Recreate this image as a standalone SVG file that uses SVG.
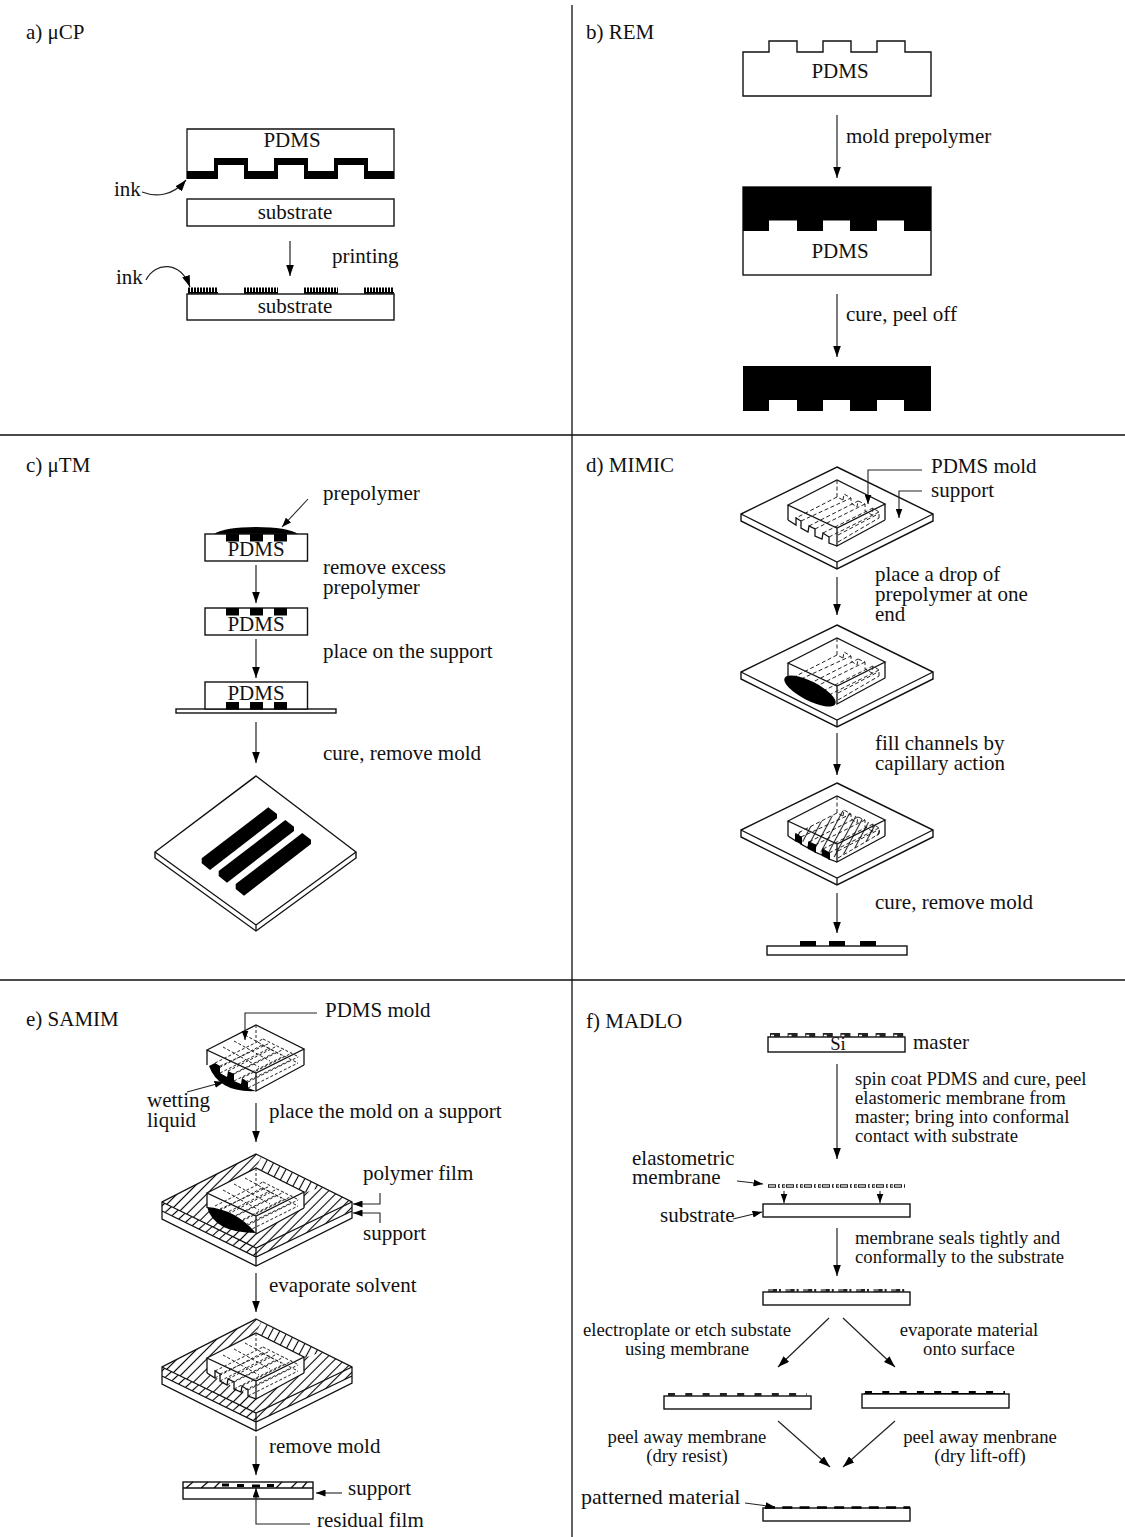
<svg xmlns="http://www.w3.org/2000/svg" xmlns:xlink="http://www.w3.org/1999/xlink" width="1125" height="1537" viewBox="0 0 1125 1537">
<style>
text{font-family:"Liberation Serif","Times New Roman",serif;fill:#111}
.t{font-size:21px}
.s{font-size:18.7px}
.m{text-anchor:middle}
.o{fill:#fff;stroke:#111;stroke-width:1.4}
.l{fill:none;stroke:#111;stroke-width:1.3}
.d{fill:none;stroke:#222;stroke-width:1;stroke-dasharray:4 2.5}
.e{fill:none;stroke:#222;stroke-width:1;stroke-dasharray:3 2}
.k{fill:#000;stroke:none}
.a{fill:none;stroke:#222;stroke-width:1.2;marker-end:url(#ah)}
.b{fill:none;stroke:#222;stroke-width:1.1;marker-end:url(#as)}
</style>
<defs>
<marker id="ah" markerUnits="userSpaceOnUse" markerWidth="12" markerHeight="8" refX="11.5" refY="4" orient="auto"><path d="M0,0 L11.5,4 L0,8 Z" fill="#000"/></marker>
<marker id="as" markerUnits="userSpaceOnUse" markerWidth="10" markerHeight="7" refX="9.5" refY="3.5" orient="auto"><path d="M0,0 L9.5,3.5 L0,7 Z" fill="#000"/></marker>
<pattern id="h" width="7" height="7" patternUnits="userSpaceOnUse" patternTransform="rotate(-45)"><line x1="0" y1="3.5" x2="7" y2="3.5" stroke="#000" stroke-width="1.1"/></pattern>
<pattern id="h2" width="7" height="7" patternUnits="userSpaceOnUse" patternTransform="rotate(-62)"><line x1="0" y1="3.5" x2="7" y2="3.5" stroke="#000" stroke-width="1.1"/></pattern>
<pattern id="h3" width="7" height="7" patternUnits="userSpaceOnUse" patternTransform="rotate(-42)"><line x1="0" y1="3.5" x2="7" y2="3.5" stroke="#000" stroke-width="1.1"/></pattern>
<g id="plate">
<path class="o" d="M837,467 L933,514 L933,521 L837,569 L741,521 L741,514 Z"/>
<path class="l" d="M741,514 L837,562 L933,514 M837,562 V569"/>
</g>
<g id="box">
<path d="M837,480 L885,504 V520 L837,546 L788,520 V505 Z" fill="#fff"/>
<path class="l" d="M788,505 L837,480 L885,504 L837,528 Z M788,505 V520 M885,504 V520 M837,528 V546 L885,520"/>
</g>
<path id="notch" class="l" d="M788,520 L796,525 V518 L801,521 V528 L808,532 L809,526 L815,529 V536 L822,539 L823,533 L829,537 V543 L837,546"/>
<path id="chanD" class="d" d="M837,480 V497 L843,500 M837,497 L796,518 M843,500 L844,494 L851,498 L851,503 L857,507 L858,501 L865,504 V511 L872,515 L873,508 L879,512 V518 M801,521 L851,498 M809,526 L858,501 M815,529 L865,504 M823,533 L873,508 M829,537 L879,512 M838,535 L878,514 M838,542 L879,518"/>
<path id="chanE" class="e" d="M837,480 V497 M796,518 L844,494 M796,525 L843,500 M801,521 L851,498 M801,528 L851,503 M808,532 L857,507 M809,526 L858,501 M815,529 L865,504 M815,536 L865,511 M822,539 L872,515 M823,533 L873,508 M829,537 L879,512 M829,543 L879,518 M844,494 L880,512 M843,500 L879,518 M826,490 L862,510 M815,496 L851,516 M804,502 L840,522"/>
<g id="plateE">
<path d="M256,1154 L352,1202 V1218 L256,1266 L162,1219 V1202 Z" fill="#fff"/>
<path d="M256,1154 L352,1202 L256,1248 L162,1202 Z" fill="url(#h)"/>
<path d="M261,1157 L322,1187 L304,1193 L256,1168 Z" fill="#fff"/>
<path d="M261,1157 L322,1187 L304,1193 L256,1168 Z" fill="url(#h2)"/>
<path d="M162,1202 L256,1248 V1257 L162,1211 Z" fill="url(#h3)"/>
<path d="M256,1248 L352,1202 V1211 L256,1257 Z" fill="url(#h)"/>
<path class="l" d="M256,1154 L352,1202 V1218 L256,1266 L162,1219 V1202 Z M162,1202 L256,1248 L352,1202 M162,1211 L256,1257 L352,1211 M256,1248 V1266"/>
</g>
<g id="bar"><path class="k" d="M201.7,858.3 L268.3,807.3 L277,814 V818.3 L210,870 L201.7,863.3 Z"/></g>
<g id="pb"><rect x="226" width="13" height="7.5"/><rect x="250" width="13" height="7.5"/><rect x="274" width="13" height="7.5"/></g>
</defs>

<g id="frame"><path class="l" d="M572,5 V1537 M0,435 H1125 M0,980 H1125"/></g>

<g id="panel-a">
<text class="t" x="26" y="39">a) μCP</text>
<g id="a-stamp">
<path class="l" d="M187,179 V129 H394 V179"/>
<path class="k" d="M187,171 H214 V158 H248 V171 H274 V158 H308 V171 H334 V158 H368 V171 H394 V179 H364 V165 H338 V179 H304 V165 H278 V179 H244 V165 H218 V179 H187 Z"/>
<text class="t m" x="292" y="147">PDMS</text>
</g>
<g id="a-substrate1"><rect class="o" x="187" y="199" width="207" height="27"/><text class="t m" x="295" y="219">substrate</text></g>
<g id="a-substrate2">
<rect class="o" x="187" y="294" width="207" height="26"/>
<path d="M188,290.5 H218 M244,290.5 H278 M304,290.5 H338 M364,290.5 H394" stroke="#000" stroke-width="6" stroke-dasharray="2 1" fill="none"/>
<path d="M188,292.8 H218 M244,292.8 H278 M304,292.8 H338 M364,292.8 H394" stroke="#000" stroke-width="1.6" fill="none"/>
<text class="t m" x="295" y="313">substrate</text>
</g>
<text class="t" x="332" y="263">printing</text>
<text class="t" x="114" y="196">ink</text>
<text class="t" x="116" y="284">ink</text>
</g>

<g id="panel-b">
<text class="t" x="586" y="39">b) REM</text>
<g id="b-pdms1"><path class="o" d="M743,52 H769 V41 H797 V52 H823 V41 H851 V52 H877 V41 H905 V52 H931 V96 H743 Z"/><text class="t m" x="840" y="78">PDMS</text></g>
<g id="b-pdms2"><rect class="o" x="743" y="187" width="188" height="88"/><path class="k" d="M743,187 H931 V231 H904 V220.5 H877 V231 H850 V220.5 H823 V231 H797 V220.5 H769 V231 H743 Z"/><text class="t m" x="840" y="258">PDMS</text></g>
<g id="b-replica"><path class="k" d="M743,366 H931 V411 H904 V400 H877 V411 H850 V400 H823 V411 H797 V400 H769 V411 H743 Z"/></g>
<text class="t" x="846" y="143">mold prepolymer</text>
<text class="t" x="846" y="321">cure, peel off</text>
</g>

<g id="panel-c">
<text class="t" x="26" y="472">c) μTM</text>
<g id="c-step1">
<path class="k" d="M214,534 Q225,527 256,527 Q287,527 298,534 Z"/>
<rect class="o" x="205" y="534" width="102.5" height="27"/>
<use href="#pb" y="534" class="k"/>
<text class="t m" x="256" y="556">PDMS</text>
</g>
<g id="c-step2"><rect class="o" x="205" y="608" width="102.5" height="27"/><use href="#pb" y="608" class="k"/><text class="t m" x="256" y="631">PDMS</text></g>
<g id="c-step3"><rect class="o" x="176" y="709" width="160" height="4"/><rect class="o" x="205" y="682" width="102.5" height="27"/><use href="#pb" y="702" class="k"/><text class="t m" x="256" y="700">PDMS</text></g>
<g id="c-plate">
<path class="o" d="M256,776 L356,852 V858 L256,931 L155,858 V852 Z"/>
<path class="l" d="M155,852 L256,925 L356,852 M256,925 V931"/>
<use href="#bar"/><use href="#bar" x="17" y="12.7"/><use href="#bar" x="34" y="25.7"/>
</g>
<text class="t" x="323" y="500">prepolymer</text>
<text class="t" x="323" y="574">remove excess</text>
<text class="t" x="323" y="594">prepolymer</text>
<text class="t" x="323" y="658">place on the support</text>
<text class="t" x="323" y="760">cure, remove mold</text>
</g>

<g id="panel-d">
<text class="t" x="586" y="472">d) MIMIC</text>
<g id="d-step1"><use href="#plate"/><use href="#box"/><use href="#notch"/><use href="#chanD"/></g>
<g id="d-step2" transform="translate(0,158)"><use href="#plate"/><use href="#box"/><use href="#chanD"/><ellipse class="k" cx="810" cy="533" rx="28.5" ry="9.5" transform="rotate(27 810 533)"/></g>
<g id="d-step3" transform="translate(0,316)"><use href="#plate"/><use href="#box"/><use href="#notch"/><use href="#chanD"/>
<path class="k" d="M795,518 L802,521 V529 L795,525 Z M808,526 L816,529 V537 L808,533 Z M822,533 L830,537 V544 L822,540 Z"/>
<path d="M796,518 L844,494 L880,512 L880,518 L837,542 L808,532 Z" fill="url(#h2)" opacity=".85"/></g>
<g id="d-film"><rect class="o" x="767" y="946" width="140" height="9"/><path class="k" d="M800,941 H816 V946 H800 Z M829,941 H845 V946 H829 Z M860,941 H876 V946 H860 Z"/></g>
<text class="t" x="931" y="473">PDMS mold</text>
<text class="t" x="931" y="497">support</text>
<text class="t" x="875" y="581">place a drop of</text>
<text class="t" x="875" y="601">prepolymer at one</text>
<text class="t" x="875" y="621">end</text>
<text class="t" x="875" y="750">fill channels by</text>
<text class="t" x="875" y="770">capillary action</text>
<text class="t" x="875" y="909">cure, remove mold</text>
</g>

<g id="panel-e">
<text class="t" x="26" y="1026">e) SAMIM</text>
<g id="e-step1" transform="translate(-581,545)"><use href="#box"/><use href="#chanE"/>
<path class="k" d="M790,521 L796,518 L801,521 V528 L808,532 L809,526 L815,529 V536 L822,539 L823,533 L829,537 V543 L837,546 Q800,548 790,521 Z"/></g>
<g id="e-step2"><use href="#plateE"/><g transform="translate(-581,688)"><use href="#box"/><use href="#chanE"/></g><path class="k" d="M207,1207 Q235,1209 256,1233 Q214,1233 207,1207 Z"/></g>
<g id="e-step3"><use href="#plateE" y="165"/><g transform="translate(-581,853)"><use href="#box"/><use href="#notch"/><use href="#chanE"/></g></g>
<g id="e-film">
<rect class="o" x="183" y="1482" width="130" height="17"/>
<path class="l" d="M183,1488 H313 M186,1488 L193,1482 M201,1488 L208,1482 M214,1488 L220,1482 M276,1488 L282,1482 M291,1488 L297,1482 M302,1488 L307,1482"/>
<path class="k" d="M222,1483.5 H229 V1486.5 H222 Z M237,1484 H244 V1487 H237 Z M252,1484.5 H260 V1487.5 H252 Z M267,1484 H274 V1487 H267 Z"/>
</g>
<text class="t" x="325" y="1017">PDMS mold</text>
<text class="t" x="147" y="1107">wetting</text>
<text class="t" x="147" y="1127">liquid</text>
<text class="t" x="269" y="1118">place the mold on a support</text>
<text class="t" x="363" y="1180">polymer film</text>
<text class="t" x="363" y="1240">support</text>
<text class="t" x="269" y="1292">evaporate solvent</text>
<text class="t" x="269" y="1453">remove mold</text>
<text class="t" x="348" y="1495">support</text>
<text class="t" x="317" y="1527">residual film</text>
</g>

<g id="panel-f">
<text class="t" x="586" y="1028">f) MADLO</text>
<g id="f-master"><rect class="o" x="768" y="1037" width="137" height="15"/>
<line x1="770" y1="1035" x2="905" y2="1035" stroke="#222" stroke-width="4" stroke-dasharray="10 7.6"/>
<line x1="771" y1="1035.5" x2="905" y2="1035.5" stroke="#fff" stroke-width="1.5" stroke-dasharray="3 14.6"/>
<text class="s m" x="838" y="1050">Si</text></g>
<g id="f-membrane">
<line x1="768" y1="1186" x2="905" y2="1186" stroke="#222" stroke-width="3.4" stroke-dasharray="8 2 2 2 3 1"/>
<line x1="769" y1="1186" x2="905" y2="1186" stroke="#ddd" stroke-width="1.3" stroke-dasharray="6 4 1 3 3 1"/>
</g>
<g id="f-substrate1"><rect class="o" x="763" y="1204" width="147" height="13"/></g>
<g id="f-substrate2"><rect class="o" x="763" y="1292" width="147" height="13"/>
<line x1="768" y1="1290.5" x2="905" y2="1290.5" stroke="#222" stroke-width="3" stroke-dasharray="9 2 2 4.6"/>
<line x1="768" y1="1290" x2="905" y2="1290" stroke="#ccc" stroke-width="1" stroke-dasharray="5 12.6"/></g>
<g id="f-left"><rect class="o" x="664" y="1396" width="147" height="13"/>
<line x1="668" y1="1394.5" x2="807" y2="1394.5" stroke="#222" stroke-width="3" stroke-dasharray="7 10.3"/></g>
<g id="f-right"><rect class="o" x="862" y="1394" width="147" height="14"/>
<line x1="864" y1="1393.5" x2="1005" y2="1393.5" stroke="#000" stroke-width="1.2"/>
<line x1="865" y1="1392.5" x2="1005" y2="1392.5" stroke="#000" stroke-width="3" stroke-dasharray="7 10.3"/></g>
<g id="f-final"><rect class="o" x="763" y="1508" width="147" height="13"/>
<line x1="765" y1="1507.5" x2="910" y2="1507.5" stroke="#000" stroke-width="2.4" stroke-dasharray="10 7.3"/></g>
<text class="t" x="913" y="1049">master</text>
<text class="s" x="855" y="1085">spin coat PDMS and cure, peel</text>
<text class="s" x="855" y="1104">elastomeric membrane from</text>
<text class="s" x="855" y="1123">master; bring into conformal</text>
<text class="s" x="855" y="1142">contact with substrate</text>
<text class="t" x="632" y="1165">elastometric</text>
<text class="t" x="632" y="1184">membrane</text>
<text class="t" x="660" y="1222">substrate</text>
<text class="s" x="855" y="1244">membrane seals tightly and</text>
<text class="s" x="855" y="1263">conformally to the substrate</text>
<text class="s m" x="687" y="1336">electroplate or etch substate</text>
<text class="s m" x="687" y="1355">using membrane</text>
<text class="s m" x="969" y="1336">evaporate material</text>
<text class="s m" x="969" y="1355">onto surface</text>
<text class="s m" x="687" y="1443">peel away membrane</text>
<text class="s m" x="687" y="1462">(dry resist)</text>
<text class="s m" x="980" y="1443">peel away menbrane</text>
<text class="s m" x="980" y="1462">(dry lift-off)</text>
<text x="581" y="1504" font-size="22">patterned material</text>
</g>

<g id="connectors">
<path class="a" d="M142,192 C155,197 172,197 186,180"/>
<path class="a" d="M146,280 C155,262 180,260 190,287"/>
<path class="a" d="M290,241 V276"/>
<path class="a" d="M837,115 V178"/>
<path class="a" d="M837,294 V357"/>
<path class="b" d="M308,499 L282,527"/>
<path class="a" d="M256,565 V603"/>
<path class="a" d="M256,639 V678"/>
<path class="a" d="M256,722 V763"/>
<path class="b" d="M922,470 H868 V504"/>
<path class="b" d="M922,491 H899 V518"/>
<path class="a" d="M837,577 V615"/>
<path class="a" d="M837,733 V775"/>
<path class="a" d="M837,893 V933"/>
<path class="b" d="M317,1013 H245 V1040"/>
<path class="b" d="M187,1092 L224,1082"/>
<path class="a" d="M256,1103 V1142"/>
<path class="b" d="M380,1193 V1204 H353"/>
<path class="b" d="M380,1223 V1213 H353"/>
<path class="a" d="M256,1273 V1312"/>
<path class="a" d="M256,1436 V1475"/>
<path class="b" d="M342,1493 H316"/>
<path class="b" d="M310,1524 H256 V1488"/>
<path class="a" d="M837,1064 V1159"/>
<path class="b" d="M737,1181 L763,1184"/>
<path class="b" d="M733,1219 L762,1212"/>
<path class="b" d="M784,1191 V1203"/>
<path class="b" d="M880,1191 V1203"/>
<path class="a" d="M837,1228 V1276"/>
<path class="a" d="M829,1318 L778,1367"/>
<path class="a" d="M843,1318 L895,1367"/>
<path class="a" d="M778,1421 L830,1467"/>
<path class="a" d="M895,1421 L843,1467"/>
<path class="b" d="M745,1503 L775,1507"/>
</g>
</svg>
